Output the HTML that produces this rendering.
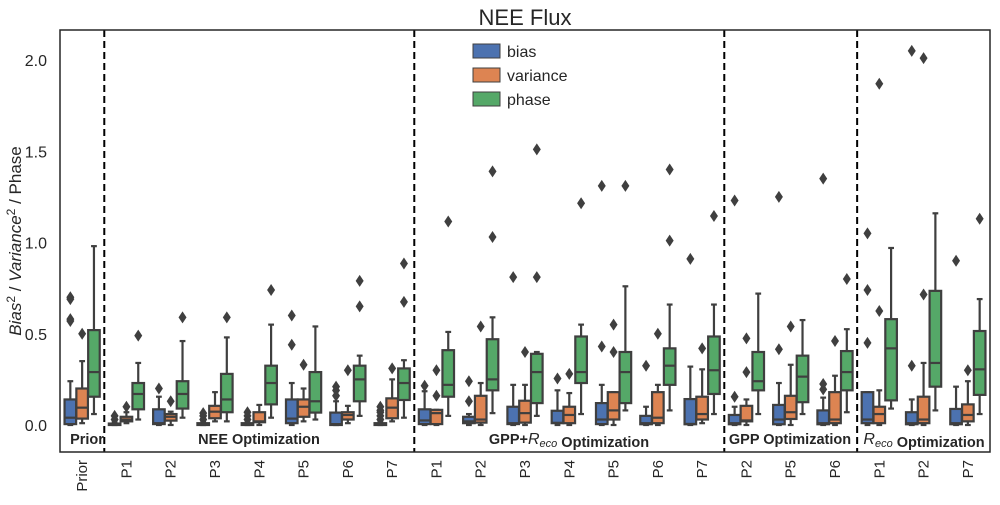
<!DOCTYPE html>
<html><head><meta charset="utf-8"><style>
body{margin:0;background:#fff}
svg text{font-family:"Liberation Sans","DejaVu Sans",sans-serif;fill:#262626}
</style></head><body>
<svg id="c" width="1000" height="500" xmlns="http://www.w3.org/2000/svg"></svg>
<script>
const categories=["Prior","P1","P2","P3","P4","P5","P6","P7","P1","P2","P3","P4","P5","P6","P7","P2","P5","P6","P1","P2","P7"];
const yTicks=[0,0.5,1.0,1.5,2.0];
const groupLabels=["Prior","NEE Optimization","GPP+R_eco Optimization","GPP Optimization","R_eco Optimization"];
const groupStarts=[0,1,8,15,18];
const biasStats=[[0,0.005,0.04,0.14,0.24],[0,0,0.002,0.008,0.015],[0,0.005,0.01,0.086,0.155],[0,0,0.003,0.01,0.02],[0,0,0.003,0.01,0.02],[0,0.01,0.035,0.14,0.23],[0,0,0.005,0.068,0.13],[0,0,0.003,0.01,0.02],[0,0.005,0.025,0.086,0.185],[0,0.01,0.02,0.045,0.06],[0,0.005,0.01,0.10,0.22],[0,0.01,0.012,0.078,0.19],[0,0.005,0.03,0.12,0.22],[0,0.004,0.01,0.05,0.10],[0,0.004,0.006,0.142,0.32],[0,0.004,0.01,0.055,0.10],[0,0.004,0.03,0.11,0.23],[0,0.004,0.01,0.08,0.15],[0,0.01,0.03,0.18,0.18],[0,0.004,0.01,0.07,0.14],[0,0.004,0.01,0.088,0.21]];
const biasOut=[[0.57,0.58,0.69,0.70],[0.03,0.05],[0.20],[0.03,0.05,0.065],[0.03,0.05,0.07],[0.44,0.60],[0.16,0.19,0.21],[0.03,0.05,0.07,0.08,0.10],[0.215],[0.13,0.24],[0.81],[0.255],[0.43,1.31],[0.325],[0.91],[0.155,1.23],[0.415,1.25],[0.195,0.225,1.35],[0.45,0.74,1.05],[0.325,2.05],[0.90]];
const varStats=[[0.01,0.035,0.095,0.20,0.35],[0.01,0.02,0.03,0.045,0.07],[0,0.024,0.045,0.06,0.073],[0.02,0.037,0.073,0.105,0.18],[0,0.015,0.02,0.07,0.11],[0.02,0.045,0.10,0.14,0.20],[0.01,0.03,0.055,0.07,0.105],[0.02,0.037,0.095,0.146,0.25],[0,0.005,0.065,0.083,0.083],[0,0.013,0.03,0.16,0.23],[0,0.013,0.065,0.133,0.22],[0,0.01,0.055,0.10,0.175],[0,0.03,0.08,0.18,0.18],[0,0.01,0.04,0.18,0.22],[0.01,0.03,0.06,0.155,0.305],[0,0.02,0.025,0.105,0.14],[0,0.033,0.07,0.16,0.33],[0,0.01,0.03,0.18,0.27],[0,0.01,0.06,0.10,0.19],[0,0.01,0.03,0.155,0.34],[0,0.02,0.055,0.113,0.24]];
const varOut=[[0.50],[0.10],[0.13],[],[],[0.33],[0.30],[0.31],[0.16,0.30],[0.54],[0.40],[0.28],[0.40,0.55],[0.50],[0.42],[0.29,0.475],[0.54],[0.46],[0.625,1.87],[0.715,2.01],[0.30]];
const phaseStats=[[0.06,0.155,0.29,0.52,0.98],[0.03,0.086,0.17,0.23,0.34],[0.04,0.09,0.17,0.24,0.46],[0.02,0.07,0.14,0.28,0.48],[0.04,0.113,0.23,0.325,0.55],[0.03,0.068,0.13,0.29,0.54],[0.05,0.13,0.25,0.325,0.38],[0.04,0.137,0.23,0.31,0.355],[0.05,0.155,0.22,0.41,0.51],[0.065,0.19,0.25,0.47,0.59],[0.05,0.12,0.29,0.39,0.40],[0.06,0.23,0.29,0.485,0.55],[0.08,0.12,0.29,0.40,0.76],[0.08,0.22,0.325,0.42,0.66],[0.06,0.17,0.30,0.485,0.66],[0.06,0.19,0.24,0.40,0.72],[0.06,0.125,0.265,0.38,0.575],[0.07,0.19,0.29,0.405,0.525],[0.09,0.135,0.42,0.58,0.97],[0.08,0.21,0.34,0.735,1.16],[0.06,0.165,0.305,0.515,0.69]];
const phaseOut=[[],[0.49],[0.59],[0.59],[0.74],[],[0.65,0.79],[0.675,0.885],[1.115],[1.03,1.39],[0.81,1.51],[1.215],[1.31],[1.01,1.40],[1.145],[],[],[0.80],[],[],[1.13]];

const svg=document.getElementById('c');
const NS='http://www.w3.org/2000/svg';
const L=60,R=990,T=30,B=452;
const bw=(R-L)/categories.length;
const x=i=>L+(i+0.5)*bw;
const y=v=>425-v*182.5;
function mk(tag,attrs,parent){const e=document.createElementNS(NS,tag);for(const k in attrs)e.setAttribute(k,attrs[k]);(parent||svg).appendChild(e);return e;}
const LC='#3f3f3f';
let t=mk('text',{x:525,y:25,'text-anchor':'middle','font-size':22});t.textContent='NEE Flux';

yTicks.forEach(v=>{const tt=mk('text',{x:47,y:y(v)+6,'text-anchor':'end','font-size':16});tt.textContent=v.toFixed(1);

});
const yl=mk('text',{x:21,y:241,'text-anchor':'middle','font-size':17,transform:'rotate(-90 21 241)'});


yl.innerHTML='<tspan font-style="italic">Bias</tspan><tspan font-size="12" dy="-6">2</tspan><tspan dy="6"> / </tspan><tspan font-style="italic">Variance</tspan><tspan font-size="12" dy="-6">2</tspan><tspan dy="6"> / Phase</tspan>';
categories.forEach((c,i)=>{const tx=x(i)+5;const tt=mk('text',{x:tx,y:460,'text-anchor':'end','font-size':15,fill:'#333',transform:`rotate(-90 ${tx} 460)`});tt.textContent=c;

});
const series=[{s:biasStats,o:biasOut,c:'#4c72b0',n:'bias'},{s:varStats,o:varOut,c:'#dd8452',n:'variance'},{s:phaseStats,o:phaseOut,c:'#55a868',n:'phase'}];
const hw=bw*0.8/3, boxW=hw*0.98;
series.forEach((se,k)=>{
 se.s.forEach((st,i)=>{
  const cx=x(i)+(k-1)*hw;
  const g=mk('g',{});
  
  
  mk('line',{x1:cx,x2:cx,y1:y(st[3]),y2:y(st[4]),stroke:LC,'stroke-width':2.2},g);
  mk('line',{x1:cx,x2:cx,y1:y(st[1]),y2:y(st[0]),stroke:LC,'stroke-width':2.2},g);
  mk('line',{x1:cx-boxW/4,x2:cx+boxW/4,y1:y(st[4]),y2:y(st[4]),stroke:LC,'stroke-width':2.2},g);
  mk('line',{x1:cx-boxW/4,x2:cx+boxW/4,y1:y(st[0]),y2:y(st[0]),stroke:LC,'stroke-width':2.2},g);
  mk('rect',{x:cx-boxW/2,y:y(st[3]),width:boxW,height:Math.max(1,y(st[1])-y(st[3])),fill:se.c,stroke:LC,'stroke-width':2.2},g);
  mk('line',{x1:cx-boxW/2,x2:cx+boxW/2,y1:y(st[2]),y2:y(st[2]),stroke:LC,'stroke-width':2.2},g);
  se.o[i].forEach(v=>{const yy=y(v);const p=mk('path',{d:`M${cx} ${yy-6}L${cx+4} ${yy}L${cx} ${yy+6}L${cx-4} ${yy}Z`,fill:LC},g);
   
   });
 });
});
groupStarts.slice(1).forEach(gs=>{const xx=L+gs*bw;const d=mk('line',{x1:xx,x2:xx,y1:T,y2:B,stroke:'#000','stroke-width':2,'stroke-dasharray':'7,4'});

});
const gx=[87,259,569,790,924];
groupLabels.forEach((g,i)=>{const tt=mk('text',{x:gx[i],y:444,'text-anchor':'middle','font-size':14.5,'font-weight':'bold'});
 if(g.includes('R_eco')){tt.innerHTML=g.replace('R_eco','<tspan font-style="italic" font-weight="normal" font-size="16">R</tspan><tspan font-style="italic" font-weight="normal" font-size="11" dy="3">eco</tspan><tspan dy="-3"></tspan>');}else tt.textContent=g;
 
 });
const fr=mk('rect',{x:L,y:T,width:R-L,height:B-T,fill:'none',stroke:'#262626','stroke-width':1.5});


series.forEach((se,k)=>{const g=mk('g',{});
 
 
 mk('rect',{x:473,y:44+k*24,width:27,height:14,fill:se.c,stroke:LC,'stroke-width':1},g);
 const tt=mk('text',{x:507,y:57+k*24,'font-size':16},g);tt.textContent=se.n;});
</script>
</body></html>
